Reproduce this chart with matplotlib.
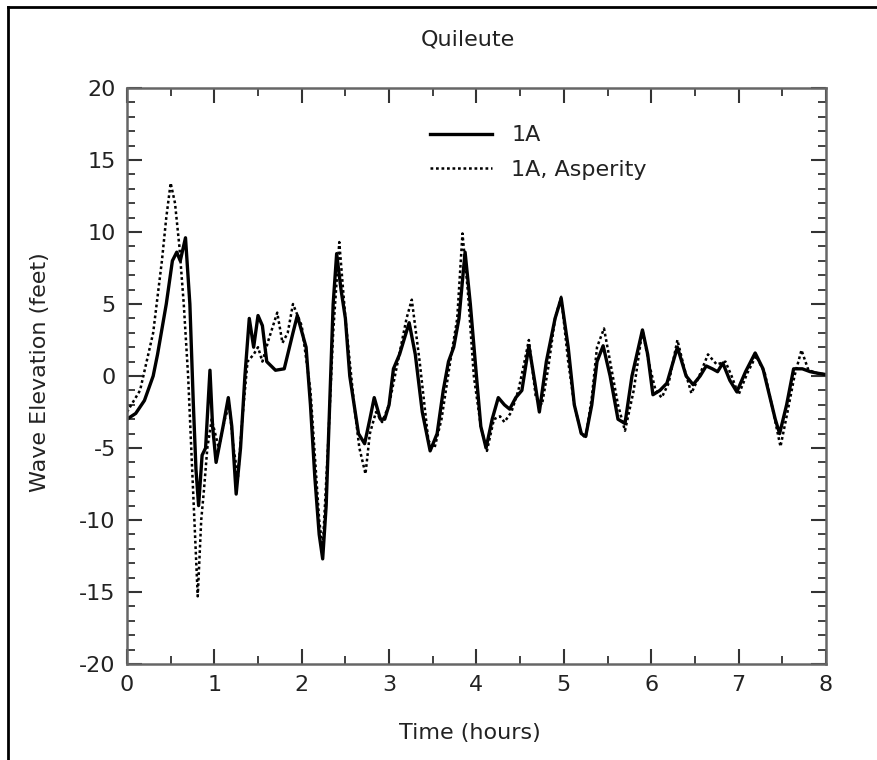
import matplotlib
matplotlib.use("Agg")
import matplotlib.pyplot as plt
from matplotlib.lines import Line2D
from matplotlib.ticker import MultipleLocator

plt.rcParams['font.family'] = ['DejaVu Sans']
plt.rcParams['axes.unicode_minus'] = False

title = "Quileute"
xlabel = "Time (hours)"
ylabel = "Wave Elevation (feet)"
label_1a = "1A"
label_asp = "1A, Asperity"

# Solid curve: 1A
t_1a = [0.0, 0.1, 0.2, 0.3, 0.35, 0.45, 0.52, 0.57, 0.61, 0.67, 0.72, 0.76, 0.79, 0.82,
        0.86, 0.9, 0.95, 0.98, 1.02, 1.1, 1.16, 1.2, 1.25, 1.3, 1.35, 1.4, 1.45, 1.5,
        1.55, 1.6, 1.7, 1.8, 1.9, 1.95, 2.05, 2.1, 2.15, 2.2, 2.24, 2.28, 2.32, 2.36,
        2.4, 2.45, 2.5, 2.55, 2.6, 2.65, 2.72, 2.78, 2.83, 2.9, 2.95, 3.0, 3.05, 3.12,
        3.23, 3.3, 3.38, 3.47, 3.55, 3.62, 3.68, 3.74, 3.8, 3.87, 3.93, 4.0, 4.05, 4.11,
        4.18, 4.25, 4.32, 4.38, 4.45, 4.52, 4.6, 4.67, 4.72, 4.8, 4.9, 4.97, 5.05, 5.12,
        5.2, 5.25, 5.32, 5.38, 5.45, 5.53, 5.62, 5.7, 5.78, 5.9, 5.96, 6.02, 6.1, 6.18,
        6.3, 6.4, 6.48, 6.56, 6.63, 6.7, 6.76, 6.82, 6.9, 6.98, 7.08, 7.19, 7.28, 7.36,
        7.42, 7.47, 7.55, 7.63, 7.73, 7.82, 7.9, 8.0]
y_1a = [-3.0, -2.6, -1.7, 0.0, 1.5, 5.0, 8.0, 8.6, 8.0, 9.6, 5.0, -2.0, -6.5, -9.0,
        -5.5, -5.0, 0.4, -3.5, -6.0, -3.5, -1.5, -3.5, -8.2, -5.0, 0.0, 4.0, 2.0, 4.2,
        3.5, 1.0, 0.4, 0.5, 3.0, 4.2, 2.0, -2.0, -7.0, -11.0, -12.7, -9.0, -2.0, 5.0,
        8.5, 6.0, 4.0, 0.0, -2.0, -4.0, -4.7, -3.0, -1.5, -3.0, -3.0, -2.0, 0.5, 1.5,
        3.7, 1.5, -2.5, -5.2, -4.0, -1.0, 1.0, 2.0, 4.0, 8.6, 5.0, 0.0, -3.5, -5.0,
        -3.0, -1.5, -2.0, -2.3, -1.5, -1.0, 2.1, -0.5, -2.5, 1.0, 4.0, 5.4, 2.0, -2.0,
        -4.0, -4.2, -2.0, 1.0, 2.1, 0.0, -3.0, -3.3, 0.0, 3.2, 1.5, -1.3, -1.0, -0.5,
        2.0, 0.0, -0.6, 0.0, 0.7, 0.5, 0.3, 0.9, -0.3, -1.1, 0.3, 1.6, 0.5, -1.5,
        -3.0, -4.0, -2.0, 0.5, 0.5, 0.3, 0.2, 0.1]

# Dotted curve: 1A, Asperity
t_asp = [0.0, 0.15, 0.3, 0.4, 0.45, 0.5, 0.55, 0.6, 0.65, 0.7, 0.75, 0.81, 0.85, 0.88,
         0.92, 0.97, 1.05, 1.12, 1.17, 1.22, 1.27, 1.32, 1.38, 1.45, 1.5, 1.55, 1.62,
         1.72, 1.78, 1.84, 1.9, 2.0, 2.1, 2.2, 2.24, 2.3, 2.36, 2.43, 2.5, 2.6, 2.66,
         2.73, 2.78, 2.85, 2.92, 3.0, 3.1, 3.2, 3.26, 3.35, 3.45, 3.52, 3.6, 3.7, 3.78,
         3.84, 3.9, 3.97, 4.05, 4.12, 4.2, 4.27, 4.32, 4.4, 4.48, 4.55, 4.6, 4.68, 4.75,
         4.82, 4.9, 4.97, 5.05, 5.12, 5.2, 5.25, 5.32, 5.38, 5.46, 5.53, 5.62, 5.7, 5.8,
         5.9, 5.97, 6.05, 6.12, 6.2, 6.3, 6.38, 6.46, 6.55, 6.65, 6.75, 6.85, 6.92, 7.0,
         7.1, 7.2, 7.3, 7.38, 7.48, 7.56, 7.64, 7.72, 7.8, 7.9, 8.0]
y_asp = [-2.5, -1.0, 3.0, 8.0, 11.0, 13.4, 12.0, 9.0, 5.0, 0.0, -7.0, -15.3, -10.0, -8.0,
         -5.0, -3.0, -5.0, -3.0, -2.0, -5.0, -7.0, -3.0, 1.0, 1.5, 2.0, 1.0, 2.5,
         4.4, 2.3, 3.0, 5.0, 3.5, -1.0, -10.0, -12.0, -5.0, 3.0, 9.3, 4.0, -2.0, -5.0,
         -6.8, -4.0, -2.5, -3.2, -2.0, 1.0, 4.0, 5.3, 1.0, -4.5, -5.0, -3.0, 1.0, 4.0,
         9.9, 6.0, 0.0, -3.5, -5.2, -3.0, -2.8, -3.2, -2.5, -1.0, 1.0, 2.5, -1.5, -2.0,
         0.5, 4.0, 5.5, 1.0, -2.0, -4.0, -4.3, -1.5, 2.0, 3.3, 1.0, -2.0, -3.8, -1.0,
         3.2, 1.0, -1.0, -1.5, -0.5, 2.5, 0.5, -1.2, 0.0, 1.5, 0.8, 1.0, 0.0, -1.3,
         0.2, 1.4, 0.2, -2.0, -4.9, -2.5, 0.0, 1.8, 0.4, 0.2, 0.1]

fig = plt.figure(figsize=(8.78, 7.6), dpi=100)
ax = fig.add_axes([0.1446, 0.1263, 0.7961, 0.7579])

ax.plot(t_1a, y_1a, color='black', lw=2.4, label=label_1a)
ax.plot(t_asp, y_asp, color='black', lw=1.8, linestyle=(0, (1.1, 1.1)), label=label_asp)

ax.set_xlim(0, 8)
ax.set_ylim(-20, 20)
ax.xaxis.set_major_locator(MultipleLocator(1))
ax.xaxis.set_minor_locator(MultipleLocator(0.5))
ax.yaxis.set_major_locator(MultipleLocator(5))
ax.yaxis.set_minor_locator(MultipleLocator(1))
ax.tick_params(which='both', direction='in', top=True, right=True, colors='#333333',
               labelcolor='#222222', labelsize=16)
ax.tick_params(which='major', length=11, width=1.5, pad=8)
ax.tick_params(which='minor', length=5.5, width=1.3)
for s in ax.spines.values():
    s.set_color('#666666')
    s.set_linewidth(1.8)

leg = ax.legend(loc='upper left', bbox_to_anchor=(0.4335, 0.935), frameon=False,
                borderaxespad=0, borderpad=0,
                fontsize=16, handlelength=2.8, handletextpad=0.85, labelspacing=0.65)
for txt in leg.get_texts():
    txt.set_color('#222222')

fig.text(0.533, 0.948, title, ha='center', va='center', fontsize=16, color='#222222')
fig.text(0.535, 0.036, xlabel, ha='center', va='center', fontsize=16, color='#222222')
fig.text(0.046, 0.51, ylabel, ha='center', va='center', rotation=90, fontsize=16,
         color='#222222')

# outer frame (left and top edges)
fig.add_artist(Line2D([0.009, 0.009], [0.0, 0.991], transform=fig.transFigure,
                      color='black', lw=2))
fig.add_artist(Line2D([0.009, 1.0], [0.991, 0.991], transform=fig.transFigure,
                      color='black', lw=2))

fig.savefig('out.png', dpi=100)
